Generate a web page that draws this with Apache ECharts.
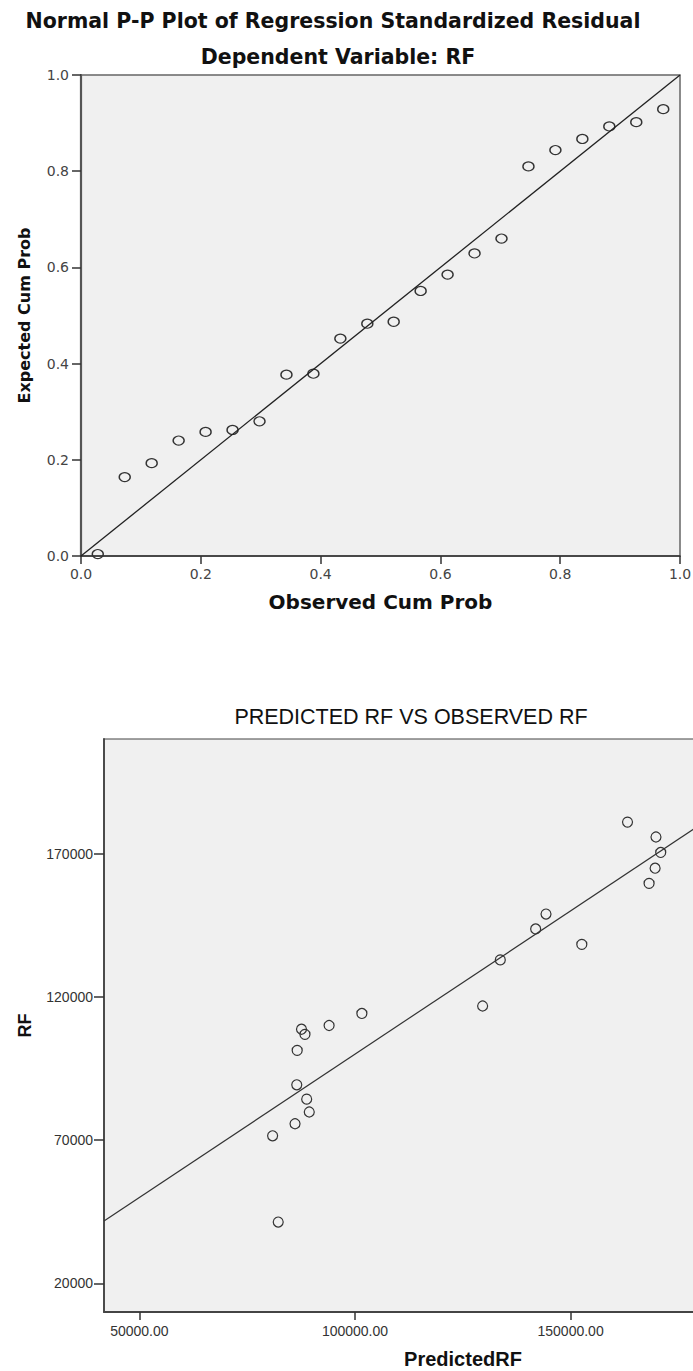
<!DOCTYPE html>
<html>
<head>
<meta charset="utf-8">
<script src="https://cdn.jsdelivr.net/npm/echarts@6/dist/echarts.min.js"></script>
<style>
html,body{margin:0;padding:0;background:#fff;overflow:hidden;}
#chart{width:693px;height:1371px;}
</style>
</head>
<body>
<div id="chart"></div>
<script>
// ---- Normal P-P plot data ----
const ppObserved = [0.028, 0.073, 0.118, 0.163, 0.208, 0.253, 0.298, 0.343, 0.388, 0.433, 0.478,
                    0.522, 0.567, 0.612, 0.657, 0.702, 0.747, 0.792, 0.837, 0.882, 0.927, 0.972];
const ppExpected = [0.004, 0.164, 0.193, 0.240, 0.258, 0.262, 0.280, 0.377, 0.379, 0.452, 0.483,
                    0.487, 0.551, 0.585, 0.629, 0.660, 0.810, 0.844, 0.867, 0.893, 0.902, 0.929];
const ppRefLine = [0, 1];
const ppTicks = [0, 0.2, 0.4, 0.6, 0.8, 1.0];

// ---- Predicted RF vs Observed RF data ----
const predictedRF = [87600, 88400, 94000, 86600, 86500, 88800, 89400, 86100, 80900, 82200, 101600,
                     129600, 133700, 141900, 144300, 152600, 163200, 169800, 170900, 169600, 168200];
const observedRF  = [108700, 106900, 110000, 101300, 89300, 84300, 79800, 75700, 71500, 41400, 114200,
                     116800, 132900, 143700, 148900, 138300, 181000, 175800, 170400, 164900, 159600];
const rfRefLine = [41800, 208300];
const rfYTicks = [20000, 70000, 120000, 170000];
const predTicks = [50000, 100000, 150000];

const chart = echarts.init(document.getElementById('chart'), null, {renderer: 'svg'});

const topFont = 'DejaVu Sans';
const botFont = 'Liberation Sans';

const option = {
  animation: false,
  backgroundColor: '#ffffff',
  title: [
    {text: 'Normal P-P Plot of Regression Standardized Residual', left: 333, top: 21, padding: 0,
     textAlign: 'center', textVerticalAlign: 'middle',
     textStyle: {fontFamily: topFont, fontWeight: 'bold', fontSize: 20.5, color: '#111'}},
    {text: 'Dependent Variable: RF', left: 338, top: 57, padding: 0,
     textAlign: 'center', textVerticalAlign: 'middle',
     textStyle: {fontFamily: topFont, fontWeight: 'bold', fontSize: 20.5, color: '#111'}},
    {text: 'PREDICTED RF VS OBSERVED RF', left: 411, top: 717, padding: 0,
     textAlign: 'center', textVerticalAlign: 'middle',
     textStyle: {fontFamily: botFont, fontWeight: 'normal', fontSize: 21.5, color: '#111'}}
  ],
  grid: [
    {left: 81, top: 75, width: 599, height: 481, show: true, backgroundColor: '#f0f0f0',
     borderColor: '#666', borderWidth: 1.5, containLabel: false, outerBoundsMode: 'none'},
    {left: 104, top: 739, width: 718, height: 573, show: true, backgroundColor: '#f0f0f0',
     borderColor: '#444', borderWidth: 1.2, containLabel: false, outerBoundsMode: 'none'}
  ],
  xAxis: [
    {type: 'value', gridIndex: 0, min: 0, max: 1, interval: 0.2,
     name: 'Observed Cum Prob', nameLocation: 'middle', nameGap: 36,
     nameTextStyle: {fontFamily: topFont, fontWeight: 'bold', fontSize: 20, color: '#111'},
     axisLine: {show: true, onZero: false, lineStyle: {color: '#333', width: 1.5}},
     axisTick: {show: true, inside: false, length: 8, lineStyle: {color: '#333', width: 1.5}},
     axisLabel: {show: true, margin: 11, fontFamily: topFont, fontSize: 14, color: '#444',
                 formatter: v => v.toFixed(1)},
     splitLine: {show: false}},
    {type: 'value', gridIndex: 1, min: 41800, max: 208300,
     name: 'PredictedRF', nameLocation: 'middle', nameGap: 37,
     nameTextStyle: {fontFamily: botFont, fontWeight: 'bold', fontSize: 20, color: '#111'},
     axisLine: {show: true, onZero: false, lineStyle: {color: '#444', width: 1.8}},
     axisTick: {show: true, inside: false, length: 8, customValues: predTicks, lineStyle: {color: '#333', width: 1.5}},
     axisLabel: {show: true, margin: 12, fontFamily: botFont, fontSize: 14, color: '#333',
                 customValues: predTicks, formatter: v => v.toFixed(2)},
     splitLine: {show: false}}
  ],
  yAxis: [
    {type: 'value', gridIndex: 0, min: 0, max: 1, interval: 0.2,
     name: 'Expected Cum Prob', nameLocation: 'middle', nameGap: 49,
     nameTextStyle: {fontFamily: topFont, fontWeight: 'bold', fontSize: 16, color: '#111'},
     axisLine: {show: true, onZero: false, lineStyle: {color: '#555', width: 2.2}},
     axisTick: {show: true, inside: false, length: 9, lineStyle: {color: '#333', width: 1.5}},
     axisLabel: {show: true, margin: 12, fontFamily: topFont, fontSize: 14, color: '#444',
                 formatter: v => v.toFixed(1)},
     splitLine: {show: false}},
    {type: 'value', gridIndex: 1, min: 10000, max: 210000,
     name: 'RF', nameLocation: 'middle', nameGap: 70,
     nameTextStyle: {fontFamily: botFont, fontWeight: 'bold', fontSize: 18, color: '#111'},
     axisLine: {show: true, onZero: false, lineStyle: {color: '#444', width: 1.8}},
     axisTick: {show: true, inside: false, length: 10, customValues: rfYTicks, lineStyle: {color: '#333', width: 1.5}},
     axisLabel: {show: true, margin: 11, fontFamily: botFont, fontSize: 14, color: '#333',
                 customValues: rfYTicks, formatter: v => String(v)},
     splitLine: {show: false}}
  ],
  series: [
    {type: 'line', xAxisIndex: 0, yAxisIndex: 0, symbol: 'none', silent: true,
     data: ppRefLine.map(v => [v, v]), lineStyle: {color: '#222', width: 1.3}},
    {type: 'scatter', xAxisIndex: 0, yAxisIndex: 0, symbol: 'circle', symbolSize: [11, 9],
     data: ppObserved.map((x, i) => [x, ppExpected[i]]),
     itemStyle: {color: 'rgba(0,0,0,0)', borderColor: '#333', borderWidth: 1.3, opacity: 1}},
    {type: 'line', xAxisIndex: 1, yAxisIndex: 1, symbol: 'none', silent: true, clip: true,
     data: rfRefLine.map(v => [v, v]), lineStyle: {color: '#333', width: 1.2}},
    {type: 'scatter', xAxisIndex: 1, yAxisIndex: 1, symbol: 'circle', symbolSize: 10,
     data: predictedRF.map((x, i) => [x, observedRF[i]]),
     itemStyle: {color: 'rgba(0,0,0,0)', borderColor: '#333', borderWidth: 1.2, opacity: 1}}
  ]
};
chart.setOption(option);
</script>
</body>
</html>
